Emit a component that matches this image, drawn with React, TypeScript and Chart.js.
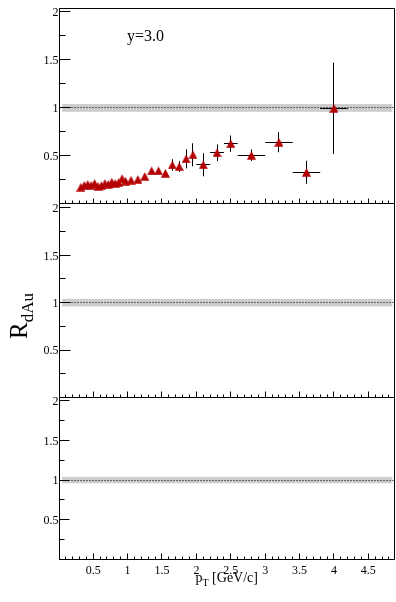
import React, { useEffect, useRef } from "react";
import { Chart, registerables } from "chart.js";

Chart.register(...registerables);

// ---------------- data ----------------
const pT = [
  0.32, 0.37, 0.42, 0.47, 0.52, 0.57, 0.62, 0.67, 0.72, 0.77, 0.82, 0.87, 0.92, 0.97,
  1.05, 1.15, 1.25, 1.35, 1.45, 1.55, 1.65, 1.75, 1.85, 1.95, 2.1, 2.3, 2.5, 2.8, 3.2, 3.6, 4.0,
];
const RdAu = [
  0.175, 0.195, 0.205, 0.195, 0.215, 0.185, 0.19, 0.215, 0.205, 0.228, 0.215, 0.225, 0.265, 0.238,
  0.248, 0.256, 0.287, 0.345, 0.345, 0.32, 0.406, 0.39, 0.47, 0.512, 0.408, 0.533, 0.628, 0.507, 0.643, 0.33, 0.996,
];
const pTErr = [
  0, 0, 0, 0, 0, 0, 0, 0, 0, 0, 0, 0, 0, 0,
  0, 0, 0, 0, 0, 0, 0, 0, 0, 0, 0.1, 0.1, 0.1, 0.2, 0.2, 0.2, 0.2,
];
const RdAuErr = [
  0.01, 0.01, 0.01, 0.01, 0.01, 0.01, 0.01, 0.01, 0.01, 0.01, 0.012, 0.012, 0.015, 0.015,
  0.015, 0.018, 0.02, 0.025, 0.025, 0.025, 0.06, 0.057, 0.1, 0.12, 0.12, 0.087, 0.085, 0.06, 0.105, 0.12, 0.475,
];

const xTickValues = [0.5, 1, 1.5, 2, 2.5, 3, 3.5, 4, 4.5];
const xTickLabels = ["0.5", "1", "1.5", "2", "2.5", "3", "3.5", "4", "4.5"];
const yTickValues = [0.5, 1, 1.5, 2];
const yTickLabels = ["0.5", "1", "1.5", "2"];
const bandRange = [0.96, 1.04];
const bandXRange = [0.05, 4.85];
const referenceLine = [1];
const panelLabel = "y=3.0";
const xTitleMain = "p";
const xTitleSub = "T";
const xTitleRest = " [GeV/c]";
const yTitleMain = "R";
const yTitleSub = "dAu";

// ---------------- style / layout ----------------
const X_MIN = 0.01;
const X_MAX = 4.88;
const Y_MIN = 0;
const Y_MAX = 2.04;
const W = 396;
const H = 602;
const LEFT = 59.5;
const RIGHT = 394.5;
const RED = "#b40000";
const SERIF = "'Liberation Serif', 'Times New Roman', serif";

type Panel = {
  top: number;
  bottom: number;
  hasData: boolean;
  xLabels: boolean;
  topLine: boolean;
  xMaj: number;
  xMin: number;
  yMaj: number;
  yMin: number;
};

const PANELS: Panel[] = [
  { top: 8, bottom: 204, hasData: true, xLabels: false, topLine: true, xMaj: 5, xMin: 3, yMaj: 11, yMin: 6 },
  { top: 204, bottom: 397.5, hasData: false, xLabels: false, topLine: false, xMaj: 6, xMin: 3, yMaj: 11, yMin: 6 },
  { top: 397.5, bottom: 559.5, hasData: false, xLabels: true, topLine: false, xMaj: 6, xMin: 3, yMaj: 10, yMin: 5 },
];

function makeTriangle(color: string): HTMLCanvasElement {
  const c = document.createElement("canvas");
  c.width = 9;
  c.height = 9;
  const g = c.getContext("2d")!;
  g.fillStyle = color;
  g.beginPath();
  g.moveTo(4.5, 0.2);
  g.lineTo(9, 8.8);
  g.lineTo(0, 8.8);
  g.closePath();
  g.fill();
  return c;
}

const crisp = (v: number) => Math.floor(v) + 0.5;

function panelPlugin(p: Panel, idx: number) {
  return {
    id: "rootPanel" + idx,
    beforeDatasetsDraw(chart: any) {
      const { ctx, chartArea: a } = chart;
      const xs = chart.scales.x;
      const ys = chart.scales.y;
      ctx.save();
      // uncertainty band
      const bx0 = xs.getPixelForValue(bandXRange[0]);
      const bx1 = xs.getPixelForValue(bandXRange[1]);
      const by0 = ys.getPixelForValue(bandRange[1]);
      const by1 = ys.getPixelForValue(bandRange[0]);
      ctx.fillStyle = "#cccccc";
      ctx.fillRect(bx0, by0, bx1 - bx0, by1 - by0);
      // dotted reference line
      referenceLine.forEach((v) => {
        const ly = crisp(ys.getPixelForValue(v));
        ctx.strokeStyle = "#000";
        ctx.lineWidth = 1;
        ctx.setLineDash([1, 2]);
        ctx.beginPath();
        ctx.moveTo(a.left + 3, ly);
        ctx.lineTo(a.right, ly);
        ctx.stroke();
        ctx.setLineDash([]);
      });
      // error bars
      if (p.hasData) {
        ctx.strokeStyle = "#000";
        ctx.lineWidth = 1;
        pT.forEach((x, i) => {
          const px = crisp(xs.getPixelForValue(x));
          const py = crisp(ys.getPixelForValue(RdAu[i]));
          if (RdAuErr[i] > 0) {
            ctx.beginPath();
            ctx.moveTo(px, ys.getPixelForValue(RdAu[i] + RdAuErr[i]));
            ctx.lineTo(px, ys.getPixelForValue(RdAu[i] - RdAuErr[i]));
            ctx.stroke();
          }
          if (pTErr[i] > 0) {
            ctx.beginPath();
            ctx.moveTo(xs.getPixelForValue(x - pTErr[i]), py);
            ctx.lineTo(xs.getPixelForValue(x + pTErr[i]), py);
            ctx.stroke();
          }
        });
      }
      ctx.restore();
    },
    afterDraw(chart: any) {
      const { ctx, chartArea: a } = chart;
      const xs = chart.scales.x;
      const ys = chart.scales.y;
      ctx.save();
      ctx.strokeStyle = "#000";
      ctx.lineWidth = 1;
      const L = crisp(a.left);
      const R = crisp(a.right - 0.5);
      const B = crisp(a.bottom - 0.5);
      const T = crisp(a.top);
      ctx.beginPath();
      ctx.moveTo(L, T - 0.5);
      ctx.lineTo(L, B + 0.5);
      ctx.moveTo(L - 0.5, B);
      ctx.lineTo(R + 0.5, B);
      ctx.moveTo(R, T - 0.5);
      ctx.lineTo(R, B + 0.5);
      if (p.topLine) {
        ctx.moveTo(L - 0.5, T);
        ctx.lineTo(R + 0.5, T);
      }
      ctx.stroke();

      // x ticks (inward, every 0.1, major every 0.5)
      ctx.beginPath();
      for (let i = 1; i <= 48; i++) {
        const v = i / 10;
        const tx = crisp(xs.getPixelForValue(v));
        const len = i % 5 === 0 ? p.xMaj : p.xMin;
        ctx.moveTo(tx, B);
        ctx.lineTo(tx, B - len);
      }
      // y ticks (inward, every 0.25, major every 0.5)
      for (let i = 1; i <= 8; i++) {
        const v = i * 0.25;
        const ty = crisp(ys.getPixelForValue(v));
        const len = i % 2 === 0 ? p.yMaj : p.yMin;
        ctx.moveTo(L, ty);
        ctx.lineTo(L + len, ty);
      }
      ctx.stroke();

      // y tick labels
      ctx.fillStyle = "#000";
      ctx.font = `12px ${SERIF}`;
      ctx.textAlign = "right";
      ctx.textBaseline = "alphabetic";
      yTickValues.forEach((v, i) => {
        const ty = ys.getPixelForValue(v);
        ctx.fillText(yTickLabels[i], 58.5, ty + 4.3);
      });

      if (p.xLabels) {
        ctx.textAlign = "center";
        xTickValues.forEach((v, i) => {
          ctx.fillText(xTickLabels[i], xs.getPixelForValue(v), 574);
        });
        // x title
        ctx.textAlign = "left";
        let xx = 195.5;
        ctx.font = `14px ${SERIF}`;
        ctx.fillText(xTitleMain, xx, 582);
        xx += ctx.measureText(xTitleMain).width;
        ctx.font = `10px ${SERIF}`;
        ctx.fillText(xTitleSub, xx, 586);
        xx += ctx.measureText(xTitleSub).width;
        ctx.font = `14px ${SERIF}`;
        ctx.fillText(xTitleRest, xx, 582);

        // y title (rotated)
        ctx.save();
        ctx.translate(27, 339);
        ctx.rotate(-Math.PI / 2);
        ctx.font = `25px ${SERIF}`;
        ctx.fillText(yTitleMain, 0, 0);
        const rw = ctx.measureText(yTitleMain).width;
        ctx.font = `17px ${SERIF}`;
        ctx.fillText(yTitleSub, rw, 6);
        ctx.restore();
      }

      if (p.hasData) {
        ctx.textAlign = "left";
        ctx.font = `16px ${SERIF}`;
        ctx.fillText(panelLabel, 127, 41);
      }
      ctx.restore();
    },
  };
}

export default function App() {
  const refs = useRef<(HTMLCanvasElement | null)[]>([]);

  useEffect(() => {
    const marker = makeTriangle(RED);
    const charts = PANELS.map((p, idx) => {
      const canvas = refs.current[idx]!;
      return new Chart(canvas, {
        type: "scatter",
        data: {
          datasets: p.hasData
            ? [
                {
                  label: "RdAu",
                  data: pT.map((x, i) => ({ x, y: RdAu[i] })),
                  pointStyle: marker as any,
                  pointRadius: 4.5,
                  pointBorderWidth: 0,
                  backgroundColor: RED,
                  borderColor: RED,
                  clip: false,
                },
              ]
            : [],
        },
        options: {
          animation: false,
          responsive: false,
          devicePixelRatio: 1,
          events: [],
          layout: {
            autoPadding: false,
            padding: { left: LEFT, right: W - RIGHT, top: p.top, bottom: H - p.bottom },
          },
          scales: {
            x: { type: "linear", min: X_MIN, max: X_MAX, display: false },
            y: { type: "linear", min: Y_MIN, max: Y_MAX, display: false },
          },
          plugins: {
            legend: { display: false },
            tooltip: { enabled: false },
          },
        },
        plugins: [panelPlugin(p, idx)],
      } as any);
    });
    return () => charts.forEach((c) => c.destroy());
  }, []);

  return (
    <div style={{ position: "absolute", left: 0, top: 0, width: W, height: H, background: "#fff" }}>
      {PANELS.map((_, idx) => (
        <canvas
          key={idx}
          ref={(el) => {
            refs.current[idx] = el;
          }}
          width={W}
          height={H}
          style={{ position: "absolute", left: 0, top: 0, width: W, height: H }}
        />
      ))}
    </div>
  );
}
